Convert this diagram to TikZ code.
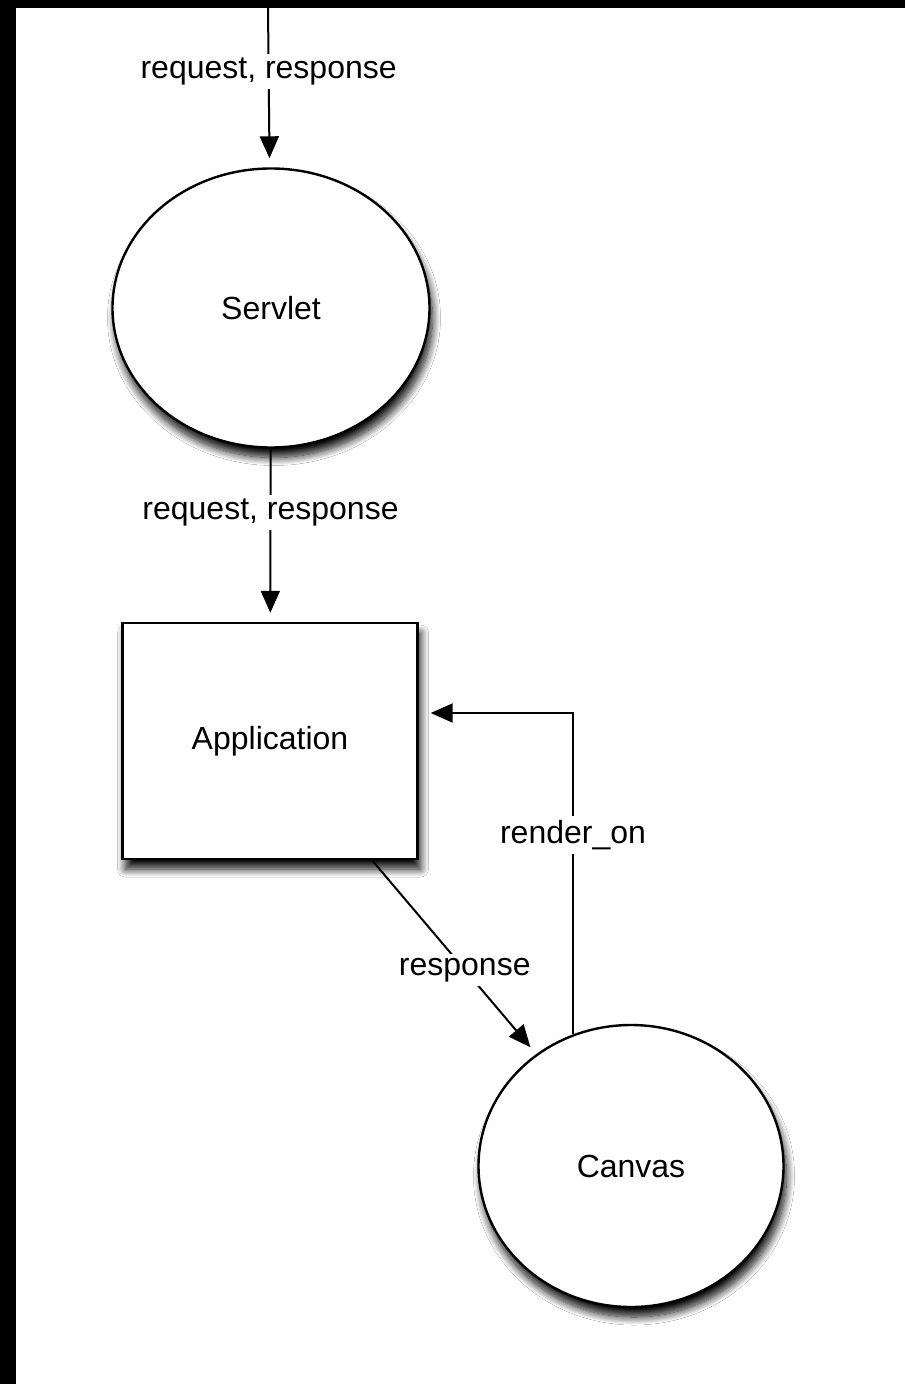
\documentclass[tikz,border=0pt]{standalone}
\usepackage{fontspec}
\setmainfont{Liberation Sans}
\usetikzlibrary{shapes.geometric,arrows.meta,shadows.blur}
\newcommand{\pageul}[0]{(0, 0)}
\newcommand{\pagelr}[0]{(905, 1384)}
\tikzset{
  shade/.style={blur shadow={shadow xshift=1.5pt, shadow yshift=-5pt, shadow blur radius=4pt, shadow blur steps=12, shadow opacity=95}},
  blob/.style={ellipse, draw, line width=1.2pt, fill=white, inner sep=0pt, shade, font=\fontsize{16}{19}\selectfont},
  box/.style={rectangle, draw, line width=1.2pt, fill=white, inner sep=0pt, shade, font=\fontsize{16}{19}\selectfont},
  flow/.style={-{Triangle[length=11pt,width=9.5pt]}, line width=1pt, shorten >=4.5pt},
  lbl/.style={fill=white, inner sep=2pt, font=\fontsize{16}{19}\selectfont}
}

\begin{document}
\begin{tikzpicture}[x=0.5pt, y=-0.5pt]
\useasboundingbox \pageul{} rectangle \pagelr{};
\fill[white] \pageul{} rectangle \pagelr{};
\fill[black] \pageul{} rectangle (905, 8);
\fill[black] \pageul{} rectangle (16, 1384);

\node[blob, minimum width=158.5pt, minimum height=139.5pt] (servlet) at (271, 308) {Servlet};
\node[box, minimum width=147.5pt, minimum height=118pt] (app) at (270, 741) {Application};
\node[blob, minimum width=152.5pt, minimum height=141pt] (canvas) at (631, 1166) {Canvas};
\coordinate (entry) at (268, 8);

\draw[flow] (entry) -- node[lbl, pos=0.40] {request, response} (servlet);
\draw[flow] (servlet) -- node[lbl, pos=0.37] {request, response} (app);
\draw[flow] ([xshift=51pt]app.south) -- node[lbl, pos=0.565] {response} (canvas);
\draw[flow, shorten >=6pt] ([xshift=-29pt, yshift=-5pt]canvas.north) |- node[lbl, pos=0.31] {render\_on} ([yshift=14pt]app.east);
\end{tikzpicture}
\end{document}
